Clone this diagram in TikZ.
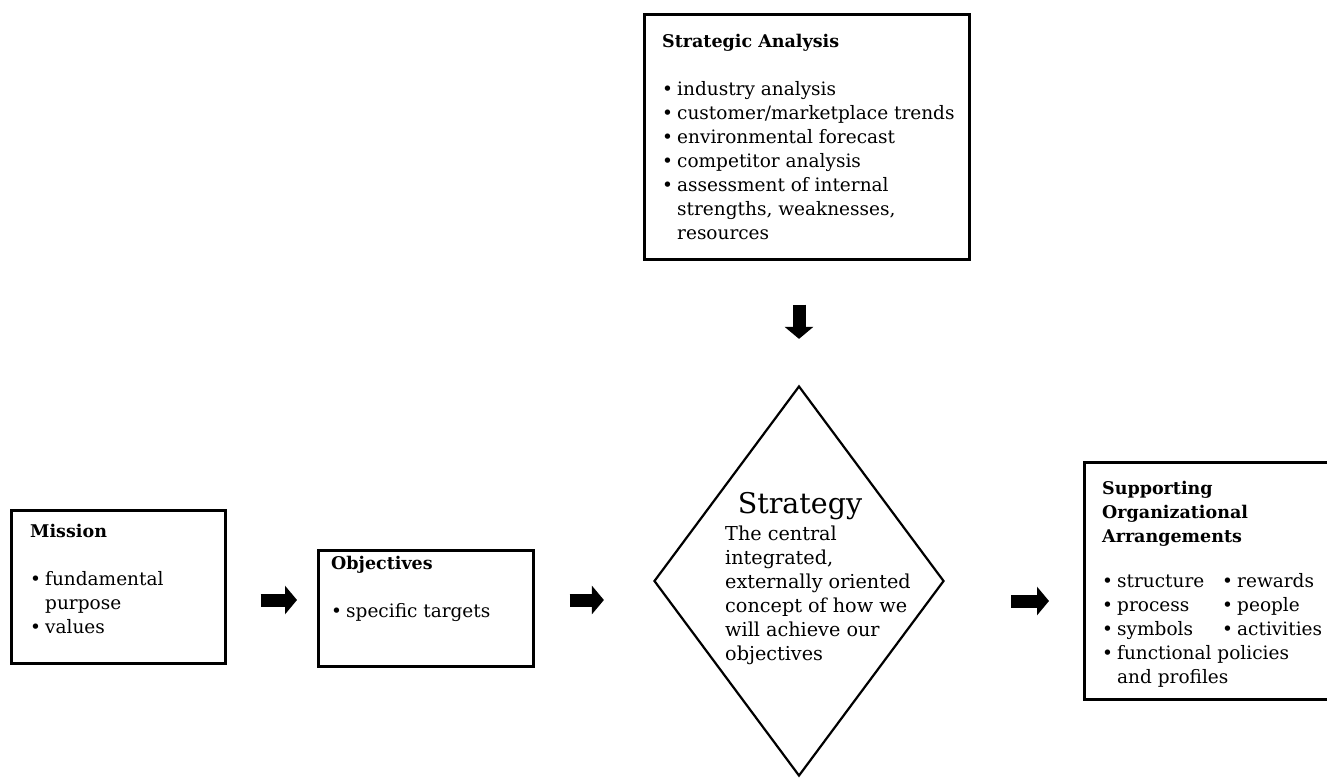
\documentclass[tikz,border=0pt]{standalone}
\usepackage{fontspec}
\setmainfont{DejaVu Serif}
\usetikzlibrary{arrows.meta,shapes.geometric}

\tikzset{
  frame/.style={draw, line width=2.6pt, inner sep=0pt, anchor=north west},
  boxtext/.style={anchor=north west, inner sep=0pt, align=left, font=\fontsize{18.5}{24}\selectfont},
  fatarrow/.style={line width=13pt, -{Triangle[length=12pt,width=28pt]}},
}
\newcommand{\bul}{\makebox[15pt][l]{\textbullet}}
\newcommand{\ind}{\hspace*{15pt}}
\newcommand{\hd}[1]{{\fontsize{17.5}{24}\selectfont\bfseries #1}}

\begin{document}
\begin{tikzpicture}[x=1pt,y=-1pt]
  \useasboundingbox (0,0) rectangle (1327,779);

  % boxes
  \node[frame, minimum width=325pt, minimum height=245pt] (analysis) at (643,13) {};
  \node[frame, minimum width=214pt, minimum height=153pt] (mission) at (10,509) {};
  \node[frame, minimum width=215pt, minimum height=116pt] (objectives) at (317,549) {};
  \node[frame, minimum width=260pt, minimum height=237pt] (support) at (1083,461) {};
  \node[draw, diamond, line width=2.2pt, inner sep=0pt, minimum width=290pt, minimum height=390pt] (strategy) at (799,581) {};

  % texts
  \node[boxtext] (analysis-text) at (662,34) {\hd{Strategic Analysis}\\[24pt]
    \bul industry analysis\\
    \bul customer/marketplace trends\\
    \bul environmental forecast\\
    \bul competitor analysis\\
    \bul assessment of internal\\
    \ind strengths, weaknesses,\\
    \ind resources};
  \node[boxtext] (mission-text) at (30,524) {\hd{Mission}\\[24pt]
    \bul fundamental\\
    \ind purpose\\
    \bul values};
  \node[boxtext] (objectives-text) at (331,556) {\hd{Objectives}\\[24pt]
    \bul specific targets};
  \node[boxtext] (support-text) at (1102,481) {\hd{Supporting}\\
    \hd{Organizational}\\
    \hd{Arrangements}\\[21pt]
    \makebox[120pt][l]{\bul structure}\bul rewards\\
    \makebox[120pt][l]{\bul process}\bul people\\
    \makebox[120pt][l]{\bul symbols}\bul activities\\
    \bul functional policies\\
    \ind and profiles};
  \node[font=\fontsize{28.5}{32}\selectfont] (strategy-title) at (800,506) {Strategy};
  \node[boxtext, font=\fontsize{19.2}{24}\selectfont] (strategy-text) at (725,526) {The central\\
    integrated,\\
    externally oriented\\
    concept of how we\\
    will achieve our\\
    objectives};

  % arrows
  \draw[fatarrow, shorten <=34pt, shorten >=20pt] (mission.east |- 0,600) -- (objectives.west |- 0,600);
  \draw[fatarrow, shorten <=35pt, shorten >=49pt] (objectives.east |- 0,600) -- (strategy.west |- 0,600);
  \draw[fatarrow, shorten <=66pt, shorten >=34pt] (strategy.east |- 0,601) -- (support.west |- 0,601);
  \draw[fatarrow, shorten <=44pt, shorten >=46pt] (analysis.south -| strategy.north) -- (strategy.north);
\end{tikzpicture}
\end{document}
